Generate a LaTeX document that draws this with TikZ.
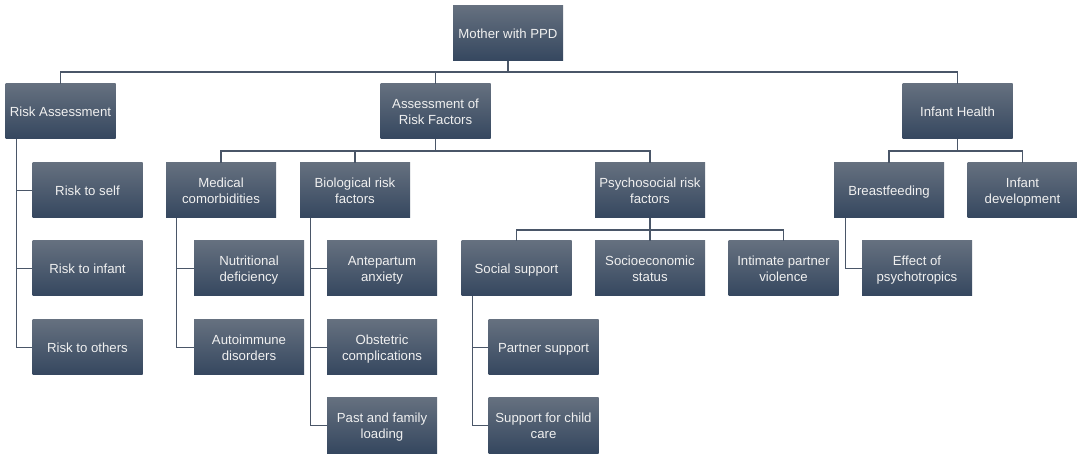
\documentclass[tikz,border=0pt]{standalone}
\usepackage{fontspec}
\setmainfont{Liberation Sans}
\definecolor{boxtop}{HTML}{65707F}
\definecolor{boxbot}{HTML}{35475F}
\definecolor{linec}{HTML}{4A5668}
\definecolor{txtc}{HTML}{F0F0F0}
\newcommand\bt[1]{{\setbox\strutbox\hbox{\vrule height12.7pt depth3.3pt width0pt}%
  \renewcommand\arraystretch{1}\begin{tabular}{@{}c@{}}#1\end{tabular}}}
\begin{document}
\begin{tikzpicture}[x=1pt,y=-1pt,
  box/.style={minimum width=110pt,minimum height=55pt,inner sep=0pt,
    top color=boxtop,bottom color=boxbot,draw=none,text=txtc,
    font=\fontsize{13.2}{16}\selectfont},
  conn/.style={draw=linec,line width=1.3pt}]
\useasboundingbox[fill=white] (0,0) rectangle (1077,454);
% nodes
\node[box] (mother) at (508,33.5) {\bt{Mother with PPD}};
\node[box] (ra) at (60.5,111.5) {\bt{Risk Assessment}};
\node[box] (arf) at (435.5,111.5) {\bt{Assessment of\\Risk Factors}};
\node[box] (ih) at (957.5,111.5) {\bt{Infant Health}};
\node[box] (rself) at (87.5,190.5) {\bt{Risk to self}};
\node[box] (rinf) at (87.5,268.5) {\bt{Risk to infant}};
\node[box] (roth) at (87.5,347.5) {\bt{Risk to others}};
\node[box] (med) at (221,190.5) {\bt{Medical\\comorbidities}};
\node[box] (bio) at (355,190.5) {\bt{Biological risk\\factors}};
\node[box] (psy) at (650,190.5) {\bt{Psychosocial risk\\factors}};
\node[box] (nut) at (249,268.5) {\bt{Nutritional\\deficiency}};
\node[box] (auto) at (249,347.5) {\bt{Autoimmune\\disorders}};
\node[box] (ante) at (382,268.5) {\bt{Antepartum\\anxiety}};
\node[box] (obst) at (382,347.5) {\bt{Obstetric\\complications}};
\node[box] (past) at (382,425.5) {\bt{Past and family\\loading}};
\node[box] (soc) at (516.5,268.5) {\bt{Social support}};
\node[box] (ses) at (650,268.5) {\bt{Socioeconomic\\status}};
\node[box] (ipv) at (783.5,268.5) {\bt{Intimate partner\\violence}};
\node[box] (part) at (543.5,347.5) {\bt{Partner support}};
\node[box] (child) at (543.5,425.5) {\bt{Support for child\\care}};
\node[box] (breast) at (889,190.5) {\bt{Breastfeeding}};
\node[box] (infdev) at (1022.5,190.5) {\bt{Infant\\development}};
\node[box] (effect) at (917,268.5) {\bt{Effect of\\psychotropics}};
% bus levels
\coordinate (bus0) at (0,72);
\coordinate (bus1) at (0,151);
\coordinate (bus2) at (0,230);
% top level
\draw[conn] (mother.south) -- (mother.south |- bus0) -| (ra.north);
\draw[conn] (mother.south |- bus0) -| (arf.north);
\draw[conn] (mother.south |- bus0) -| (ih.north);
% risk assessment
\draw[conn] ([xshift=11pt]ra.south west) |- (rself.west);
\draw[conn] ([xshift=11pt]ra.south west) |- (rinf.west);
\draw[conn] ([xshift=11pt]ra.south west) |- (roth.west);
% assessment of risk factors
\draw[conn] (arf.south) -- (arf.south |- bus1) -| (med.north);
\draw[conn] (arf.south |- bus1) -| (bio.north);
\draw[conn] (arf.south |- bus1) -| (psy.north);
\draw[conn] ([xshift=11pt]med.south west) |- (nut.west);
\draw[conn] ([xshift=11pt]med.south west) |- (auto.west);
\draw[conn] ([xshift=11pt]bio.south west) |- (ante.west);
\draw[conn] ([xshift=11pt]bio.south west) |- (obst.west);
\draw[conn] ([xshift=11pt]bio.south west) |- (past.west);
\draw[conn] (psy.south) -- (psy.south |- bus2) -| (soc.north);
\draw[conn] (psy.south |- bus2) -- (ses.north);
\draw[conn] (psy.south |- bus2) -| (ipv.north);
\draw[conn] ([xshift=11pt]soc.south west) |- (part.west);
\draw[conn] ([xshift=11pt]soc.south west) |- (child.west);
% infant health
\draw[conn] (ih.south) -- (ih.south |- bus1) -| (breast.north);
\draw[conn] (ih.south |- bus1) -| (infdev.north);
\draw[conn] ([xshift=12pt]breast.south west) |- (effect.west);
\end{tikzpicture}
\end{document}
